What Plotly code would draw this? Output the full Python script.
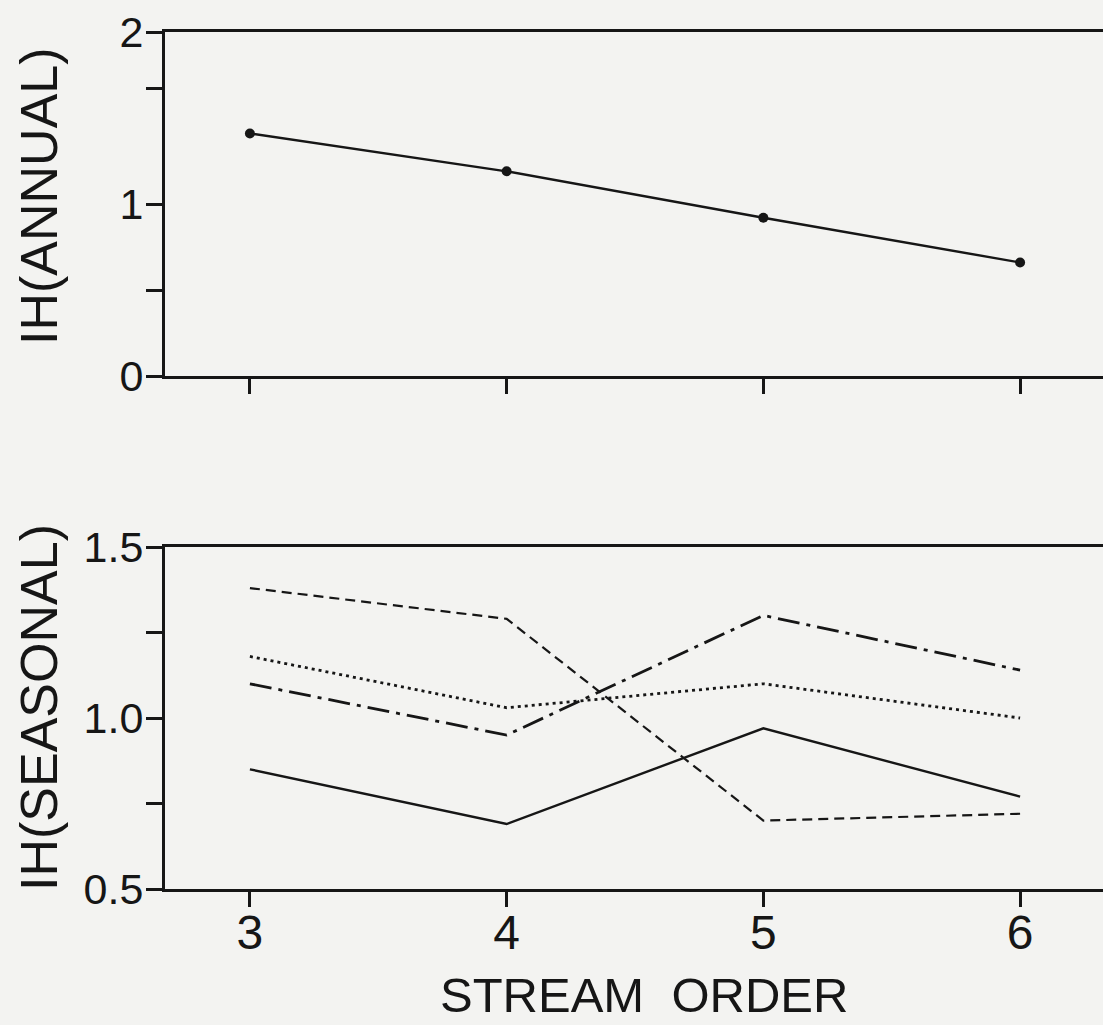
import plotly.graph_objects as go
from plotly.subplots import make_subplots

# ---- data ----
stream_order = [3, 4, 5, 6]
ih_annual = [1.41, 1.19, 0.92, 0.66]

seasonal_solid = [0.85, 0.69, 0.97, 0.77]
seasonal_dashed = [1.38, 1.29, 0.70, 0.72]
seasonal_dotted = [1.18, 1.03, 1.10, 1.00]
seasonal_dashdot = [1.10, 0.95, 1.30, 1.14]

annual_ticks = [0, 0.5, 1, 1.67, 2]
annual_ticktext = ["0", "", "1", "", "2"]
seasonal_ticks = [0.5, 0.75, 1.0, 1.25, 1.5]
seasonal_ticktext = ["0.5", "", "1.0", "", "1.5"]
x_ticktext = ["3", "4", "5", "6"]

ink = "#161616"
paper = "#f3f3f1"
FONT = "Liberation Sans"

W, H = 1103, 1025
ML, MR, MT, MB = 165, 0, 32, 136
plot_h = H - MT - MB
top_bottom_px = 376
bot_top_px = 547
top_dom = [(H - MB - top_bottom_px) / plot_h, 1.0]
bot_dom = [0.0, (H - MB - bot_top_px) / plot_h]

fig = make_subplots(rows=2, cols=1)

fig.add_trace(go.Scatter(x=stream_order, y=ih_annual, mode="lines+markers",
                         line=dict(color=ink, width=2.4),
                         marker=dict(color=ink, size=10),
                         showlegend=False), row=1, col=1)

styles = [
    (seasonal_solid, "solid", 2.4),
    (seasonal_dashed, "10px,6px", 2.2),
    (seasonal_dotted, "3px,4px", 2.8),
    (seasonal_dashdot, "22px,7px,4px,7px", 2.8),
]
for ys, dash, w in styles:
    fig.add_trace(go.Scatter(x=stream_order, y=ys, mode="lines",
                             line=dict(color=ink, width=w, dash=dash),
                             showlegend=False), row=2, col=1)

xrange = [3 - 85 / 257, 6 + 83 / 257]
common_x = dict(range=xrange, tickvals=stream_order, showline=True, linecolor=ink,
                linewidth=3, mirror=True, ticks="outside", ticklen=15, tickwidth=3,
                tickcolor=ink, showgrid=False, zeroline=False)
fig.update_xaxes(**common_x, showticklabels=False, domain=[0, 1], row=1, col=1)
fig.update_xaxes(**common_x, ticktext=x_ticktext, showticklabels=True,
                 tickfont=dict(family=FONT, size=48, color=ink),
                 ticklabelstandoff=-16,
                 domain=[0, 1], row=2, col=1)

common_y = dict(showline=True, linecolor=ink, linewidth=3, mirror=False,
                ticks="outside", ticklen=16, tickwidth=3, tickcolor=ink,
                showgrid=False, zeroline=False, ticklabelstandoff=-6,
                tickfont=dict(family=FONT, size=43, color=ink))
fig.update_yaxes(**common_y, range=[0, 2], tickvals=annual_ticks,
                 ticktext=annual_ticktext, domain=top_dom, row=1, col=1)
fig.update_yaxes(**common_y, range=[0.5, 1.5], tickvals=seasonal_ticks,
                 ticktext=seasonal_ticktext, domain=bot_dom, row=2, col=1)

plot_w = W - ML - MR
def px_to_paper_x(px):
    return (px - ML) / plot_w
def px_to_paper_y(py):
    return (H - MB - py) / plot_h

fig.add_annotation(text="IH(ANNUAL)", textangle=-90, xref="paper", yref="paper",
                   x=px_to_paper_x(39), y=px_to_paper_y(196), xanchor="center",
                   yanchor="middle", showarrow=False,
                   font=dict(family=FONT, size=52, color=ink))
fig.add_annotation(text="IH(SEASONAL)", textangle=-90, xref="paper", yref="paper",
                   x=px_to_paper_x(39), y=px_to_paper_y(708), xanchor="center",
                   yanchor="middle", showarrow=False,
                   font=dict(family=FONT, size=52, color=ink))
fig.add_annotation(text="STREAM  ORDER", xref="paper", yref="paper",
                   x=px_to_paper_x(644), y=px_to_paper_y(995), xanchor="center",
                   yanchor="middle", showarrow=False,
                   font=dict(family=FONT, size=49, color=ink))

fig.update_layout(width=W, height=H, margin=dict(l=ML, r=MR, t=MT, b=MB),
                  paper_bgcolor=paper, plot_bgcolor=paper, showlegend=False)

fig.write_html("out.html")
